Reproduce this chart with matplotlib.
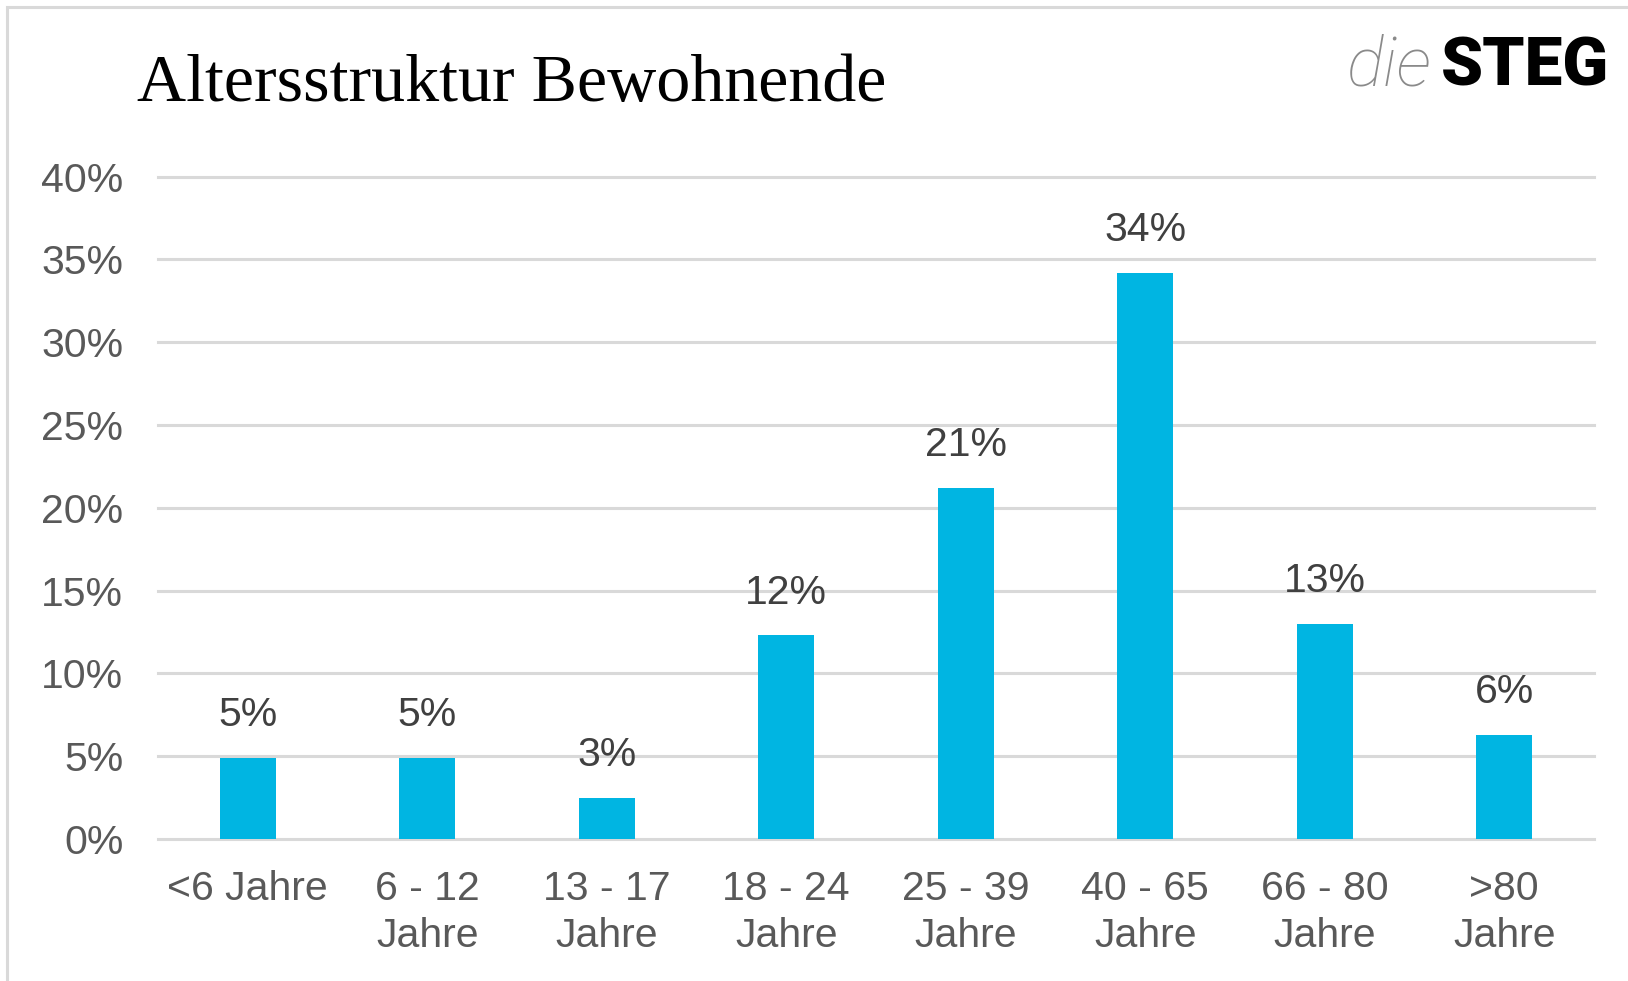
import numpy as np
import matplotlib
matplotlib.use("Agg")
from matplotlib import pyplot as plt
from matplotlib.patches import Rectangle

categories = ["<6 Jahre", "6 - 12\nJahre", "13 - 17\nJahre", "18 - 24\nJahre",
              "25 - 39\nJahre", "40 - 65\nJahre", "66 - 80\nJahre", ">80\nJahre"]
values = [4.9, 4.9, 2.5, 12.3, 21.2, 34.2, 13.0, 6.3]
labels = ["5%", "5%", "3%", "12%", "21%", "34%", "13%", "6%"]
yticks = [0, 5, 10, 15, 20, 25, 30, 35, 40]

W, H = 1628, 981
fig = plt.figure(figsize=(W / 100, H / 100), dpi=100)
fig.patch.set_facecolor("white")

# frame round the chart (cut off at right and bottom)
fig.patches.append(Rectangle((7 / W, -0.1), 1.2, 1 - 7 / H + 0.1, transform=fig.transFigure,
                             fill=False, edgecolor="#d9d9d9", linewidth=2.2))

ax = fig.add_axes([158 / W, 1 - 839 / H, (1594 - 158) / W, (839 - 176.5) / H])
x = np.arange(len(categories))
ax.bar(x, values, width=0.31, color="#00B5E2", zorder=3)

for xi, v, lab in zip(x, values, labels):
    ax.annotate(lab, (xi, v), xytext=(0, 17), textcoords="offset points",
                ha="center", va="bottom", fontsize=29.5, color="#404040",
                family="Liberation Sans")

ax.set_xlim(-0.5, len(categories) - 0.5)
ax.set_ylim(0, 40)
ax.set_yticks(yticks)
ax.set_yticklabels([f"{t}%" for t in yticks])
ax.set_xticks(x)
ax.set_xticklabels(categories, linespacing=1.3)
for t in ax.get_xticklabels() + ax.get_yticklabels():
    t.set_family("Liberation Sans")
    t.set_fontsize(29.5)
    t.set_color("#595959")
ax.tick_params(axis="both", length=0)
ax.tick_params(axis="y", pad=25)
ax.tick_params(axis="x", pad=22)
for t in yticks:
    ax.axhline(t, color="#d9d9d9", linewidth=2.2, zorder=0, clip_on=False)
for s in ax.spines.values():
    s.set_visible(False)

fig.text(137 / W, 1 - 101 / H, "Altersstruktur Bewohnende", family="Liberation Serif",
         fontsize=49, color="black", ha="left", va="baseline")

fig.text(1431 / W, 1 - 86 / H, "die", family="Roboto", fontweight="light", style="italic",
         fontsize=50, color="#8a8a8a", ha="right", va="baseline")
fig.text(1441 / W, 1 - 86 / H, "STEG", family="Roboto", fontweight="black",
         fontsize=48.5, color="black", ha="left", va="baseline")

fig.savefig("out.png", dpi=100)
